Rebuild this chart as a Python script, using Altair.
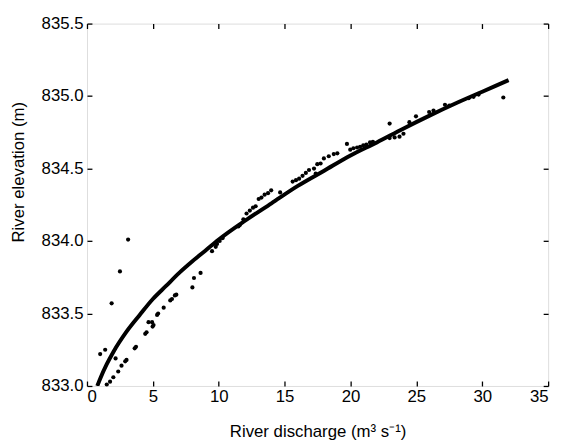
import altair as alt
import pandas as pd

# Observed points: river discharge (m3/s) and river elevation (m)
obs_q = [1.00, 1.38, 1.87, 2.50, 3.12, 1.50, 1.75, 2.00, 2.17, 2.37, 2.62, 2.90, 3.00,
         3.62, 3.72, 4.42, 4.52, 4.67, 4.94, 5.05, 4.98, 5.32, 5.40, 5.82, 6.32, 6.45,
         6.67, 6.78, 8.00, 8.12, 8.62, 9.49, 9.77, 9.87, 10.07,
         10.3, 11.49, 11.6, 11.87, 12.11, 12.36, 12.6, 12.8, 13.03, 13.24, 13.48, 13.74,
         13.98, 14.66, 15.61, 15.86, 16.1, 16.36, 16.61, 16.85, 17.23, 17.36, 17.48, 17.73,
         17.98, 18.35, 18.73, 19.0, 19.73, 19.98, 20.22, 20.5, 20.73, 20.97, 21.2, 21.48,
         21.7, 22.97, 22.97, 23.35, 23.72, 24.02, 24.47, 24.97, 25.97, 26.3, 27.17, 27.5,
         28.97, 29.34, 29.72, 31.6]
obs_h = [833.22, 833.25, 833.57, 833.79, 834.01, 833.01, 833.03, 833.06, 833.19, 833.10,
         833.14, 833.17, 833.18, 833.26, 833.27, 833.36, 833.37, 833.44, 833.44, 833.42,
         833.41, 833.49, 833.50, 833.54, 833.59, 833.60, 833.625, 833.63, 833.68, 833.745,
         833.78, 833.93, 833.96, 833.98, 834.00,
         834.02, 834.10, 834.11, 834.15, 834.19, 834.21, 834.23, 834.24, 834.29, 834.30,
         834.32, 834.33, 834.35, 834.335, 834.41, 834.42, 834.43, 834.45, 834.47, 834.49,
         834.50, 834.465, 834.53, 834.535,
         834.57, 834.585, 834.60, 834.605, 834.67, 834.63, 834.64, 834.645, 834.65, 834.66,
         834.665, 834.68, 834.685, 834.81, 834.71, 834.715, 834.72, 834.74, 834.82, 834.86,
         834.89, 834.90, 834.94, 834.935, 834.985, 834.995, 835.01, 834.99]

# Fitted rating curve
fit_q = [0.78, 1.0, 1.5, 2, 3, 4, 5, 6, 7, 8, 9, 10, 12, 14, 16, 18, 20, 22, 24, 26, 28, 30, 32]
fit_h = [833.00, 833.05, 833.15, 833.235, 833.375, 833.49, 833.60, 833.69, 833.78, 833.86,
         833.935, 834.01, 834.14, 834.26, 834.38, 834.485, 834.59, 834.68, 834.775, 834.865,
         834.95, 835.03, 835.11]

x_ticks = [0, 5, 10, 15, 20, 25, 30, 35]
y_ticks = [833.0, 833.5, 834.0, 834.5, 835.0, 835.5]

obs = pd.DataFrame({"q": obs_q, "h": obs_h})
fit = pd.DataFrame({"q": fit_q, "h": fit_h})

FONT = "Liberation Sans"
xs = alt.Scale(domain=[0, 35], nice=False, zero=False)
ys = alt.Scale(domain=[833.0, 835.5], nice=False, zero=False)

common = dict(grid=False, domain=False, tickColor="black", tickSize=5, tickWidth=1.3,
              offset=-5,
              labelFont=FONT, labelFontSize=17, labelColor="black",
              titleFont=FONT, titleFontSize=17, titleFontWeight="normal", titleColor="black")

points = alt.Chart(obs).mark_circle(size=18, color="black", opacity=1).encode(
    x=alt.X("q:Q", scale=xs,
            axis=alt.Axis(orient="bottom", values=x_ticks, format="d", labelPadding=3,
                          title="River discharge (m³ s⁻¹)", titlePadding=19, **common)),
    y=alt.Y("h:Q", scale=ys,
            axis=alt.Axis(orient="left", values=y_ticks, format=".1f", labelPadding=4,
                          title="River elevation (m)", titleX=-65, titleY=150, **common)),
)

curve = alt.Chart(fit).mark_line(color="black", strokeWidth=4, interpolate="monotone",
                                 clip=True).encode(
    x=alt.X("q:Q", scale=xs,
            axis=alt.Axis(orient="top", values=x_ticks, labels=False, title=None, **common)),
    y=alt.Y("h:Q", scale=ys,
            axis=alt.Axis(orient="right", values=y_ticks, labels=False, title=None, **common)),
)

chart = alt.layer(points, curve).resolve_axis(x="independent", y="independent").properties(
    width=467, height=367,
    autosize=alt.AutoSizeParams(type="none"),
    padding={"left": 80, "top": 13, "right": 10, "bottom": 58},
).configure_view(stroke="black", strokeWidth=1.5).configure(background="white")

chart.save("out.html", embed_options={"renderer": "svg", "actions": False})
